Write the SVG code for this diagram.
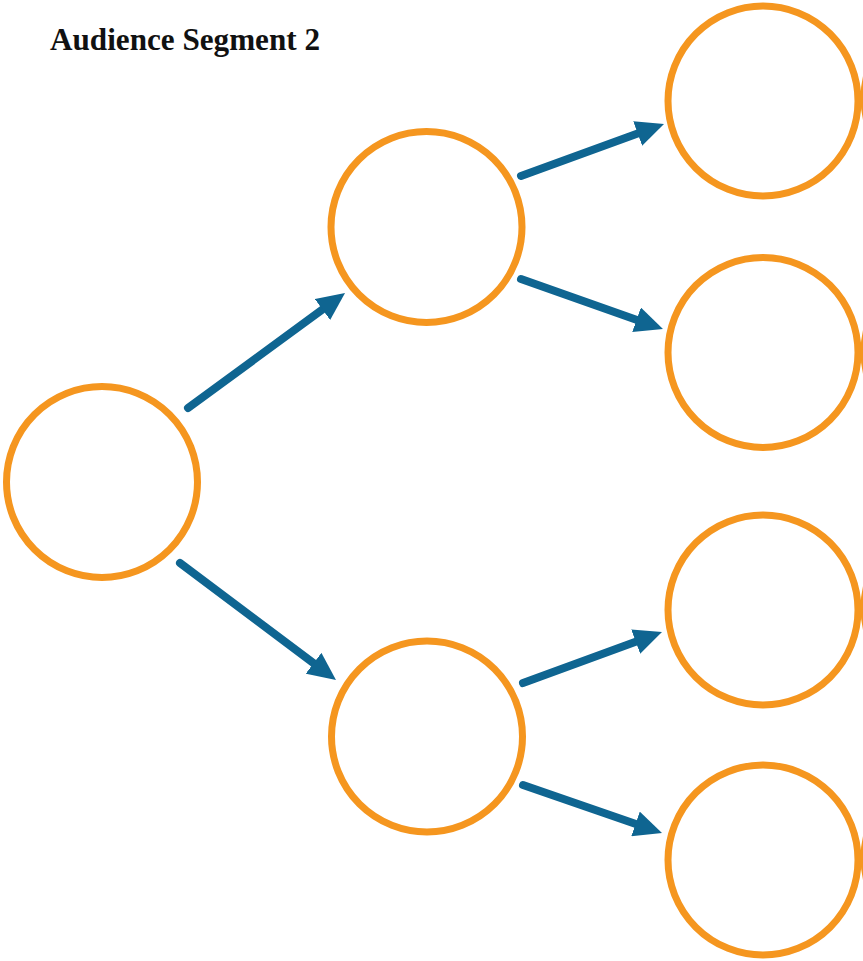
<svg xmlns="http://www.w3.org/2000/svg" width="863" height="961" viewBox="0 0 863 961">
  <style>
    .node { fill: #ffffff; stroke: #f5961f; stroke-width: 7; }
    .edge { fill: none; stroke: #0f6591; stroke-width: 8; stroke-linecap: round; marker-end: url(#head); }
    .title { font-family: "Liberation Serif", "DejaVu Serif", serif; font-weight: bold; font-size: 31px; fill: #111111; }
  </style>
  <defs>
    <marker id="head" viewBox="0 0 28 26" refX="8" refY="13" markerWidth="28" markerHeight="26" markerUnits="userSpaceOnUse" orient="auto">
      <path d="M0,0 L28,13 L0,26 Z" fill="#0f6591"/>
    </marker>
  </defs>
  <rect width="863" height="961" fill="#ffffff"/>
  <text class="title" x="50" y="50" textLength="270" lengthAdjust="spacingAndGlyphs">Audience Segment 2</text>

  <g id="connectors">
    <line class="edge" x1="188" y1="408" x2="328.9" y2="304.8"/>
    <line class="edge" x1="180" y1="563" x2="320" y2="668"/>
    <line class="edge" x1="521" y1="176" x2="645.2" y2="130.8"/>
    <line class="edge" x1="521" y1="279" x2="644.1" y2="322.4"/>
    <line class="edge" x1="523" y1="683" x2="643.2" y2="638.9"/>
    <line class="edge" x1="523" y1="785" x2="643.1" y2="826.5"/>
  </g>

  <g id="root"><circle class="node" cx="102" cy="482" r="95.5"/></g>
  <g id="mid-top"><circle class="node" cx="426.5" cy="227" r="95.5"/></g>
  <g id="mid-bottom"><circle class="node" cx="427" cy="736.5" r="95.5"/></g>
  <g id="leaf-1"><circle class="node" cx="763" cy="101" r="95"/></g>
  <g id="leaf-2"><circle class="node" cx="763" cy="352.5" r="95"/></g>
  <g id="leaf-3"><circle class="node" cx="763" cy="610" r="95"/></g>
  <g id="leaf-4"><circle class="node" cx="763" cy="860" r="95"/></g>
  <g id="edge-1"><circle class="node" cx="959" cy="98" r="95"/></g>
  <g id="edge-2"><circle class="node" cx="959" cy="352" r="95"/></g>
  <g id="edge-3"><circle class="node" cx="959" cy="608" r="95"/></g>
  <g id="edge-4"><circle class="node" cx="959" cy="858" r="95"/></g>
</svg>
